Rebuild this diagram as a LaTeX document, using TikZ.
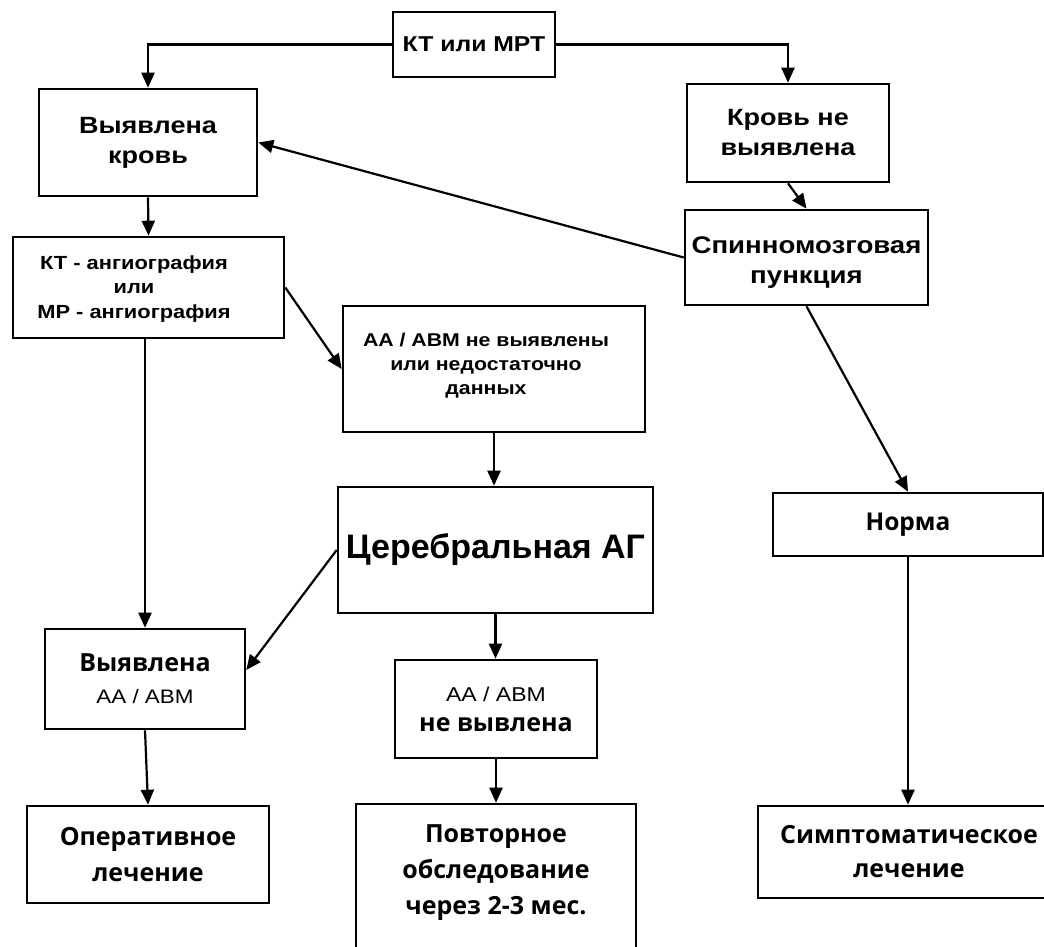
\documentclass[tikz,border=0pt]{standalone}
\usepackage{fontspec}
\newfontfamily\fa[FakeStretch=1.15]{Liberation Sans}
\newfontfamily\fc{Liberation Sans}
\newfontfamily\fb{Open Sans}
\usetikzlibrary{arrows.meta,calc}
\tikzset{
  box/.style={draw, line width=2.6pt, inner sep=0pt, align=center, rectangle, text=black},
  txt/.style={inner sep=0pt, align=center, text=black},
  arr/.style={line width=2.2pt, -{Triangle[length=15pt,width=13pt]}}
}
\begin{document}
\begin{tikzpicture}[x=1pt,y=-1pt]
\useasboundingbox (0,0) rectangle (1044,946);
% boxes
\node[box, minimum width=162, minimum height=65, font=\fa\bfseries\fontsize{21.5}{24}\selectfont] (ct) at (474,44.5) {КТ или МРТ};
\node[box, minimum width=218, minimum height=107, font=\fa\bfseries\fontsize{23.5}{30}\selectfont] (vk) at (148,142.5) {Выявлена\\кровь};
\node[box, minimum width=202, minimum height=98, font=\fa\bfseries\fontsize{23.5}{30}\selectfont] (kn) at (788,133) {Кровь не\\выявлена};
\node[box, minimum width=243, minimum height=95, font=\fa\bfseries\fontsize{24}{30}\selectfont] (sp) at (806.5,257.5) {\rule{0pt}{26pt}Спинномозговая\\пункция};
\node[box, minimum width=271, minimum height=101] (kta) at (148.5,287.5) {};
\node[txt, font=\fa\bfseries\fontsize{19}{24.5}\selectfont] (ktat) at (134,289) {КТ - ангиография\\или\\МР - ангиография};
\node[box, minimum width=302, minimum height=126] (aa) at (494,369) {};
\node[txt, font=\fa\bfseries\fontsize{18.5}{24}\selectfont] (aat) at (486,366) {АА / АВМ не выявлены\\или недостаточно\\данных};
\node[box, minimum width=315, minimum height=126, font=\fc\bfseries\fontsize{34}{40}\selectfont] (ceb) at (495.5,550) {Церебральная АГ};
\node[box, minimum width=270, minimum height=63, font=\fb\bfseries\fontsize{24.5}{30}\selectfont] (norma) at (908,524.5) {Норма};
\node[box, minimum width=200, minimum height=100, font=\fb\bfseries\fontsize{25}{32}\selectfont] (vaa) at (145,679) {Выявлена\\{\fa\mdseries\fontsize{19.5}{32}\selectfont АА / АВМ}};
\node[box, minimum width=202, minimum height=98, font=\fb\bfseries\fontsize{25}{30}\selectfont] (aanv) at (496,709) {{\fa\mdseries\fontsize{20}{30}\selectfont АА / АВМ}\\не вывлена};
\node[box, minimum width=242, minimum height=97, font=\fb\bfseries\fontsize{25}{36}\selectfont] (op) at (148,854.5) {Оперативное\\лечение};
\node[box, minimum width=280, minimum height=190] (pov) at (496,899) {};
\node[txt, font=\fb\bfseries\fontsize{25}{36}\selectfont] (povt) at (496,873) {Повторное\\обследование\\через 2-3 мес.};
\node[box, minimum width=302, minimum height=92, font=\fb\bfseries\fontsize{25}{34}\selectfont] (sym) at (909,852) {Симптоматическое\\лечение};
% connectors
\draw[arr] (ct.west) -| (vk.north);
\draw[arr] (ct.east) -| (kn.north);
\draw[arr] (vk.south) -- (kta.north);
\draw[arr] (kn.south) -- (sp.north);
\draw[arr] (sp.west) -- (vk.east);
\draw[arr] (sp.south) -- (norma.north);
\draw[arr] (kta.east) -- (aa.west);
\draw[arr] (vaa.north |- kta.south) -- (vaa.north);
\draw[arr] (aa.south) -- (aa.south |- ceb.north);
\draw[arr] (ceb.west) -- ($(vaa.east)+(0,-9)$);
\draw[arr] (ceb.south) -- (ceb.south |- aanv.north);
\draw[arr] (vaa.south) -- (op.north);
\draw[arr] (aanv.south) -- (aanv.south |- pov.north);
\draw[arr] (norma.south) -- (norma.south |- sym.north);
\end{tikzpicture}
\end{document}
